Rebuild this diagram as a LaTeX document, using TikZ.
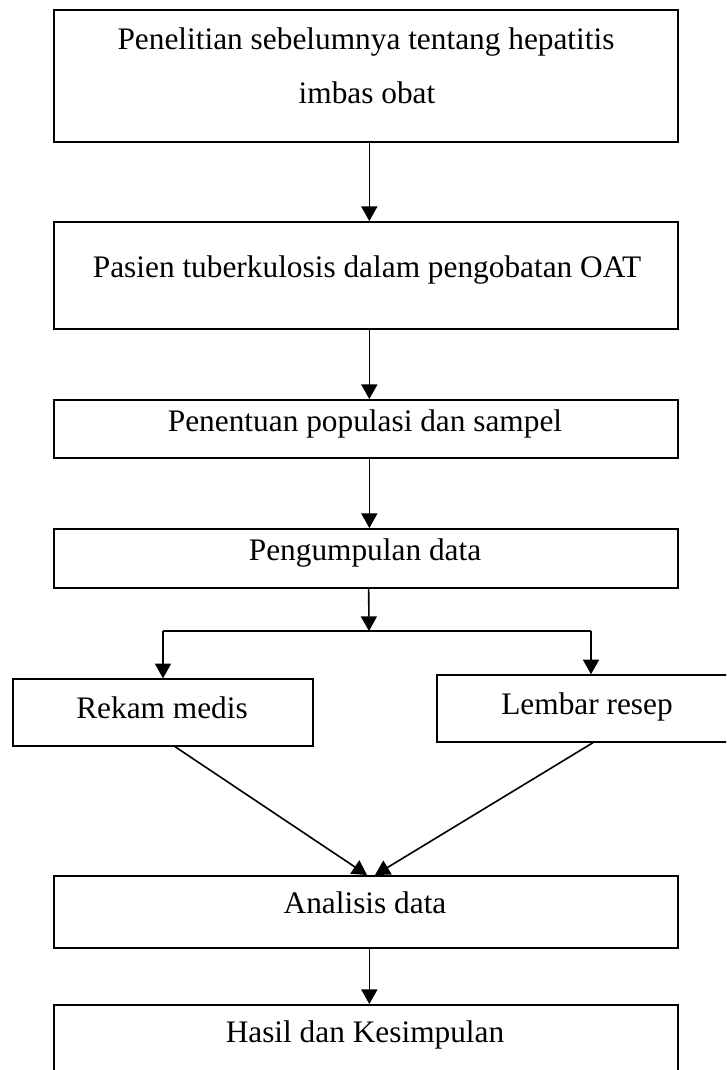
\documentclass[tikz,border=0pt]{standalone}
\usepackage{fontspec}
\setmainfont{Liberation Serif}
\usetikzlibrary{arrows.meta}

\begin{document}
\begin{tikzpicture}[x=0.75pt,y=-0.75pt,
  box/.style={draw,line width=1.4pt,minimum width=468pt,inner sep=0pt},
  sidebox/.style={draw,line width=1pt,minimum width=225pt,minimum height=50.25pt,inner sep=0pt},
  label/.style={anchor=base,inner sep=0pt,font=\fontsize{23.5}{28}\selectfont},
  arr/.style={-{Triangle[length=11pt,width=12pt]},line width=1.2pt}]
  \useasboundingbox (0,0) rectangle (726,1070);
  \clip (0,0) rectangle (726,1070);
  \node[box,minimum height=99pt] (riset) at (366,76) {};
  \node[label] (risettxt) at (366,50) {Penelitian sebelumnya tentang hepatitis};
  \node[label] (risettxt2) at (367,104) {imbas obat};
  \node[box,minimum height=80.25pt] (pasien) at (366,275.5) {};
  \node[label] (pasientxt) at (367,277) {Pasien tuberkulosis dalam pengobatan OAT};
  \node[box,minimum height=43.5pt] (populasi) at (366,429) {};
  \node[label] (populasitxt) at (365,431) {Penentuan populasi dan sampel};
  \node[box,minimum height=44.25pt] (kumpul) at (366,558.5) {};
  \node[label] (kumpultxt) at (365,560) {Pengumpulan data};
  \coordinate (cabang) at (369,631);
  \node[sidebox] (rekam) at (163,712.5) {};
  \node[label] (rekamtxt) at (162,718) {Rekam medis};
  \node[sidebox] (resep) at (587,708.5) {};
  \node[label] (reseptxt) at (587,714) {Lembar resep};
  \node[box,minimum height=54pt] (analisis) at (366,912) {};
  \node[label] (analisistxt) at (365,913) {Analisis data};
  \node[box,minimum height=54pt] (hasil) at (366,1041) {};
  \node[label] (hasiltxt) at (365,1042) {Hasil dan Kesimpulan};
  \draw[arr] ([xshift=2.5pt]riset.south) -- ([xshift=2.5pt]pasien.north);
  \draw[arr] ([xshift=2.5pt]pasien.south) -- ([xshift=2.5pt]populasi.north);
  \draw[arr] ([xshift=2.5pt]populasi.south) -- ([xshift=2.5pt]kumpul.north);
  \draw[arr] ([xshift=2pt]kumpul.south) -- (cabang);
  \draw[line width=1.2pt] (rekam.north |- cabang) -- ([xshift=3pt]resep.north |- cabang);
  \draw[arr] (rekam.north |- cabang) -- (rekam.north);
  \draw[arr] ([xshift=3pt]resep.north |- cabang) -- ([xshift=3pt]resep.north);
  \draw[arr] ([xshift=9pt]rekam.south) -- ([xshift=0.75pt]analisis.north);
  \draw[arr] ([xshift=4.5pt]resep.south) -- ([xshift=6.75pt]analisis.north);
  \draw[arr] ([xshift=2.5pt]analisis.south) -- ([xshift=2.5pt]hasil.north);
\end{tikzpicture}
\end{document}
